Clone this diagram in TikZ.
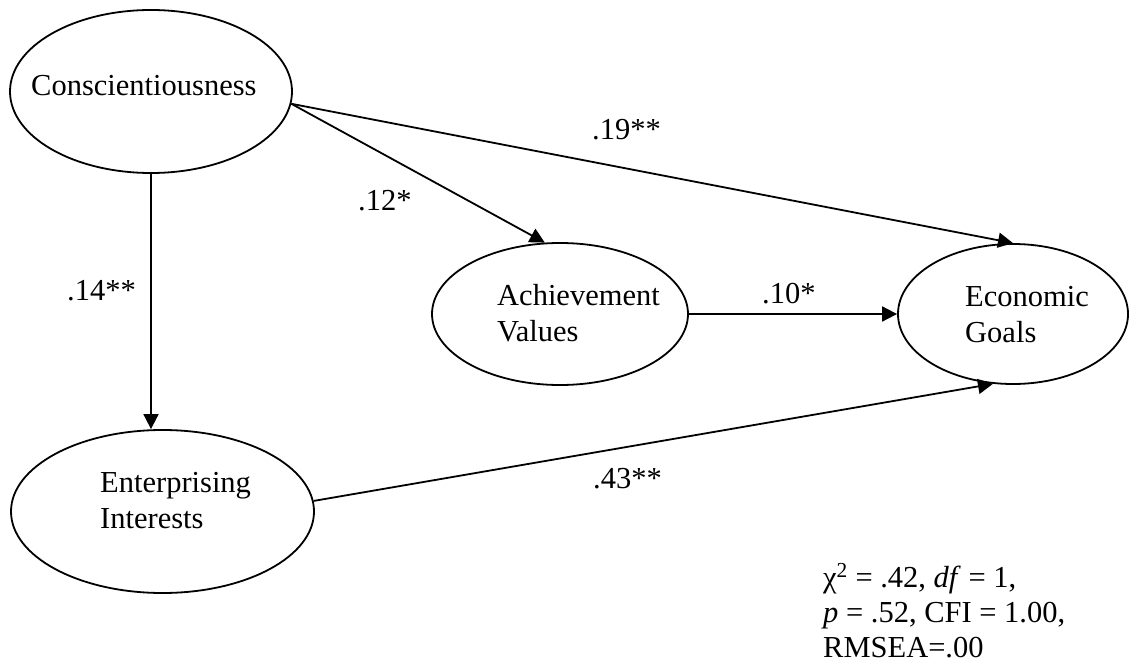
\documentclass[tikz,border=0pt]{standalone}
\usepackage{fontspec}
\setmainfont{Liberation Serif}
\usetikzlibrary{shapes.geometric,arrows.meta}

\begin{document}
\begin{tikzpicture}[x=1pt,y=-1pt,
    latent/.style={draw, ellipse, line width=1.8pt, inner sep=0pt},
    txt/.style={anchor=base west, inner sep=0pt, font=\fontsize{30.5}{36}\selectfont},
    coef/.style={anchor=base west, inner sep=0pt, font=\fontsize{30.5}{36}\selectfont},
    path/.style={line width=1.8pt, -{Triangle[length=15pt,width=15pt]}}]
  \useasboundingbox (0,0) rectangle (1130,666);

  % latent variables
  \node[latent, minimum width=282pt, minimum height=163pt] (c)  at (151,91.5) {};
  \node[latent, minimum width=256pt, minimum height=142pt] (a)  at (560,314) {};
  \node[latent, minimum width=230pt, minimum height=140pt] (e)  at (1013,314) {};
  \node[latent, minimum width=303pt, minimum height=163pt] (ei) at (162.5,511.5) {};

  % variable names
  \node[txt] (ct)  at (31,96) {Conscientiousness};
  \node[txt] (at)  at (497,305) {\begin{tabular}[t]{@{}l@{}}Achievement\\Values\end{tabular}};
  \node[txt] (et)  at (965,306) {\begin{tabular}[t]{@{}l@{}}Economic\\Goals\end{tabular}};
  \node[txt] (eit) at (100,492) {\begin{tabular}[t]{@{}l@{}}Enterprising\\Interests\end{tabular}};

  % structural paths
  \draw[path] (c.-5) -- (a.102);
  \draw[path] (c.-5) -- (e.north);
  \draw[path] (a.east) -- (e.west);
  \draw[path] (c.south) -- (c.south |- ei.north);
  \draw[path] (ei.4) -- (e.254);

  % path coefficients
  \node[coef] (k1) at (358,210) {.12*};
  \node[coef] (k2) at (592,140) {.19**};
  \node[coef] (k3) at (762,303) {.10*};
  \node[coef] (k4) at (67,300)  {.14**};
  \node[coef] (k5) at (593,488) {.43**};

  % fit statistics
  \node[txt] (fit) at (823,587) {\fontsize{30.5}{35}\selectfont\begin{tabular}[t]{@{}l@{}}χ\textsuperscript{2} = .42, \textit{df} = 1,\\\textit{p} = .52, CFI = 1.00,\\RMSEA=.00\end{tabular}};
\end{tikzpicture}
\end{document}
